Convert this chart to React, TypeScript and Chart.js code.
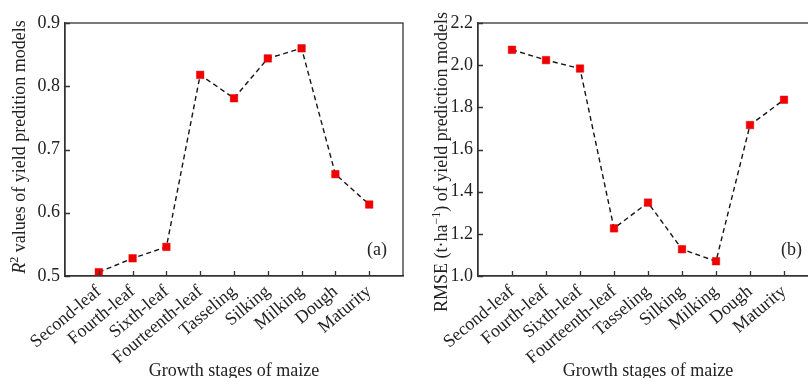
import React, { useEffect, useRef } from "react";
import { Chart, registerables } from "chart.js";

Chart.register(...registerables);

const stages = [
  "Second-leaf",
  "Fourth-leaf",
  "Sixth-leaf",
  "Fourteenth-leaf",
  "Tasseling",
  "Silking",
  "Milking",
  "Dough",
  "Maturity",
];
const r2Values = [0.506, 0.528, 0.546, 0.818, 0.781, 0.844, 0.86, 0.661, 0.613];
const rmseValues = [2.073, 2.024, 1.984, 1.226, 1.348, 1.127, 1.07, 1.716, 1.836];
const r2Ticks = [0.5, 0.6, 0.7, 0.8, 0.9];
const rmseTicks = [1.0, 1.2, 1.4, 1.6, 1.8, 2.0, 2.2];

const FONT = "'Liberation Serif', 'DejaVu Serif', serif";
const TEXT = "#222";

type Seg = { t: string; italic?: boolean; sup?: boolean };

const r2Title: Seg[] = [
  { t: "R", italic: true },
  { t: "2", sup: true },
  { t: " values of yield predition models" },
];
const rmseTitle: Seg[] = [
  { t: "RMSE (t·ha" },
  { t: "−1", sup: true },
  { t: ") of yield prediction models" },
];

type PanelProps = {
  values: number[];
  yTicks: number[];
  title: Seg[];
  label: string;
  width: number;
  yAxisWidth: number;
  padRight: number;
  titleX: number;
  titleY: number;
  left: number;
};

function Panel(p: PanelProps) {
  const ref = useRef<HTMLCanvasElement | null>(null);
  useEffect(() => {
    if (!ref.current) return;
    const fontSize = 18;
    const decor = {
      id: "decor",
      afterDraw(chart: any) {
        const ctx = chart.ctx as CanvasRenderingContext2D;
        const a = chart.chartArea;
        ctx.save();
        ctx.strokeStyle = "#333";
        ctx.lineWidth = 1.3;
        ctx.strokeRect(a.left, a.top, a.right - a.left, a.bottom - a.top);
        // inward ticks
        const ys = chart.scales.y;
        const xs = chart.scales.x;
        ctx.beginPath();
        for (const t of ys.ticks) {
          const py = Math.round(ys.getPixelForValue(t.value)) + 0.5;
          ctx.moveTo(a.left, py);
          ctx.lineTo(a.left + 5, py);
        }
        for (const t of xs.ticks) {
          const px = Math.round(xs.getPixelForValue(t.value)) + 0.5;
          ctx.moveTo(px, a.bottom);
          ctx.lineTo(px, a.bottom - 5);
        }
        ctx.stroke();
        // panel label
        ctx.fillStyle = TEXT;
        ctx.font = `18px ${FONT}`;
        ctx.textAlign = "right";
        ctx.textBaseline = "middle";
        ctx.fillText(p.label, a.right - 16, 250);
        // x title
        ctx.font = `18px ${FONT}`;
        ctx.textAlign = "center";
        ctx.textBaseline = "alphabetic";
        ctx.fillText("Growth stages of maize", (a.left + a.right) / 2, 376);
        // y title
        ctx.translate(p.titleX, p.titleY);
        ctx.rotate(-Math.PI / 2);
        ctx.textAlign = "left";
        ctx.textBaseline = "middle";
        const fontOf = (s: Seg) =>
          `${s.italic ? "italic " : ""}${s.sup ? 12 : fontSize}px ${FONT}`;
        let total = 0;
        for (const s of p.title) {
          ctx.font = fontOf(s);
          total += ctx.measureText(s.t).width;
        }
        let x = -total / 2;
        for (const s of p.title) {
          ctx.font = fontOf(s);
          ctx.fillText(s.t, x, s.sup ? -5 : 0);
          x += ctx.measureText(s.t).width;
        }
        ctx.restore();
      },
    };
    const chart = new Chart(ref.current, {
      type: "line",
      data: {
        datasets: [
          {
            data: p.values.map((v, i) => ({ x: i + 1, y: v })),
            borderColor: "#151515",
            borderWidth: 1.4,
            borderDash: [5, 3.5],
            pointStyle: "rect",
            pointRadius: 5.3,
            pointBackgroundColor: "#f00000",
            pointBorderColor: "#e00000",
            pointBorderWidth: 0.5,
            tension: 0,
          },
        ],
      },
      options: {
        responsive: false,
        animation: false,
        layout: { padding: { top: 23, right: p.padRight, left: 0, bottom: 0 } },
        plugins: { legend: { display: false }, tooltip: { enabled: false } },
        scales: {
          x: {
            type: "linear",
            min: 0,
            max: 10,
            afterBuildTicks: (s: any) => {
              s.ticks = stages.map((_, i) => ({ value: i + 1 }));
            },
            afterFit: (s: any) => {
              s.height = 102;
            },
            border: { display: true, color: "#333", width: 1.3 },
            grid: { drawOnChartArea: false, drawTicks: false },
            ticks: {
              autoSkip: false,
              minRotation: 40,
              maxRotation: 40,
              padding: 5,
              color: TEXT,
              font: { family: FONT, size: 18 },
              callback: (v: any) => stages[Math.round(Number(v)) - 1] ?? "",
            },
          },
          y: {
            type: "linear",
            min: p.yTicks[0],
            max: p.yTicks[p.yTicks.length - 1],
            afterBuildTicks: (s: any) => {
              s.ticks = p.yTicks.map((v) => ({ value: v }));
            },
            afterFit: (s: any) => {
              s.width = p.yAxisWidth;
            },
            border: { display: true, color: "#333", width: 1.3 },
            grid: { drawOnChartArea: false, drawTicks: false },
            ticks: {
              padding: 5,
              color: TEXT,
              font: { family: FONT, size: 18 },
              callback: (v: any) => Number(v).toFixed(1),
            },
          },
        },
      },
      plugins: [decor],
    } as any);
    return () => chart.destroy();
  }, []);
  return (
    <div style={{ position: "absolute", left: p.left, top: 0 }}>
      <canvas ref={ref} width={p.width} height={378} style={{ display: "block" }} />
    </div>
  );
}

export default function App() {
  return (
    <div
      style={{
        position: "fixed",
        left: 0,
        top: 0,
        width: 808,
        height: 378,
        overflow: "hidden",
        background: "#fff",
      }}
    >
      <Panel
        values={r2Values}
        yTicks={r2Ticks}
        title={r2Title}
        label="(a)"
        width={410}
        yAxisWidth={65}
        padRight={7}
        titleX={20}
        titleY={147}
        left={0}
      />
      <Panel
        values={rmseValues}
        yTicks={rmseTicks}
        title={rmseTitle}
        label="(b)"
        width={420}
        yAxisWidth={70}
        padRight={10}
        titleX={34}
        titleY={162}
        left={408}
      />
    </div>
  );
}
